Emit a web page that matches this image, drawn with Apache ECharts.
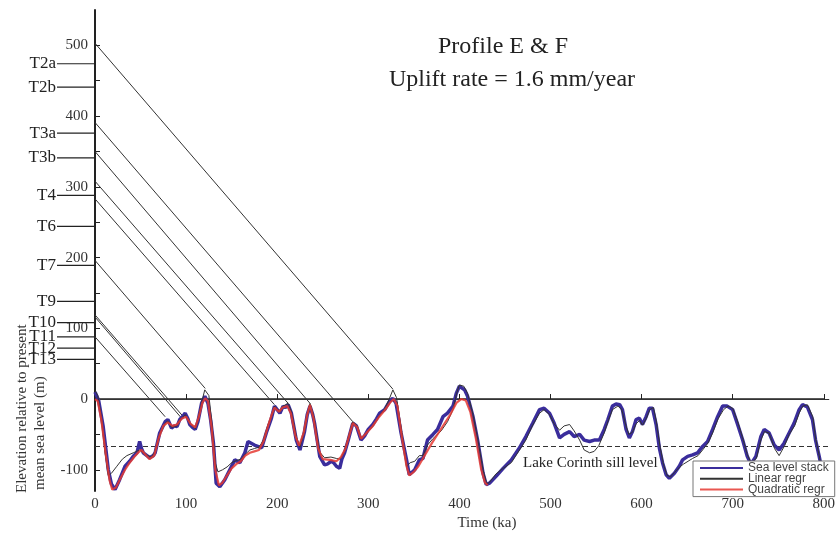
<!DOCTYPE html>
<html>
<head>
<meta charset="utf-8">
<script src="https://cdn.jsdelivr.net/npm/echarts@6/dist/echarts.min.js"></script>
<style>
  html, body { margin: 0; padding: 0; background: #fff; }
  #chart { width: 838px; height: 535px; }
</style>
</head>
<body>
<div id="chart"></div>
<script>
// Sea level stack (time in ka, elevation in m)
const seaLevelStack = [
  [0,10],[2,8],[4,-2],[9,-39],[14.6,-100],[18,-120],[22,-128],[27,-114],[33,-95],[38,-88],
  [42,-81],[46,-76],[49,-60],[51,-70],[53,-76],[57,-80],[60,-83],[64,-80],[66,-76],[71,-48],
  [77,-32],[80,-29],[84,-41],[87,-38],[90,-39],[93,-29],[96,-25],[99,-20],[102,-28],[104,-36],
  [107,-40],[110,-43],[113,-32],[117,-6],[120.6,4],[124,-6],[127,-30],[130,-62],[133,-119],[137,-124],
  [142.5,-114],[148,-100],[153.5,-86],[159,-90],[164.5,-76],[168,-60],[170,-58],[175,-65],[183,-69],[188,-48],
  [193.7,-27],[197,-10],[200,-15],[203,-20],[206.5,-10],[209,-12],[212,-8],[215.6,-20],[221,-58],[225,-72],
  [230,-46],[233,-22],[236,-10],[239,-22],[241,-34],[246.7,-81],[252,-93],[255,-92],[259.5,-88],[262,-90],
  [265,-95],[268.6,-98],[271,-85],[274,-76],[278,-58],[283,-34],[287,-38],[292,-58],[296,-52],[300,-43],
  [305,-36],[309,-28],[312.5,-20],[318,-15],[323.5,-3],[327,1],[330.5,-6],[336,-48],[342,-86],[345,-107],
  [351,-100],[356,-86],[360,-84],[365,-58],[371,-50],[376,-43],[382,-25],[387,-20],[393,-10],[396.6,8],
  [400,18],[405.7,13],[409,4],[415,-25],[420,-58],[426,-105],[429.5,-121],[433,-119],[440.5,-109],[448,-98],
  [457,-86],[466,-69],[473,-53],[480.6,-34],[488,-15],[493,-13],[499,-20],[504,-34],[510,-55],[515,-50],
  [521,-46],[526,-53],[532,-50],[537,-58],[543,-60],[548,-58],[553.7,-58],[559,-43],[563,-29],[568,-10],
  [572,-7],[576,-8],[579,-15],[583,-43],[586.6,-55],[590,-46],[594,-29],[597.6,-27],[601,-36],[605,-25],
  [608.5,-13],[612,-13],[616,-36],[619.5,-69],[623,-90],[627,-107],[630.5,-112],[636,-105],[641.4,-95],[645,-86],
  [650.6,-81],[656,-79],[661.5,-76],[667,-67],[672.5,-60],[678,-43],[683.5,-25],[689,-10],[694,-10],[700,-15],
  [705,-34],[711,-58],[716,-81],[720,-92],[725.5,-81],[731,-53],[734.6,-43],[740,-48],[745.6,-65],[751,-72],
  [756.6,-62],[762,-48],[767.5,-34],[773,-15],[776.6,-8],[782,-11],[787.6,-29],[791,-58],[795,-81],[798,-100]
];

// Linear regression reconstruction
const linearRegr = [
  [0,12],[3,5],[7,-25],[11,-75],[14.6,-108],[18,-105],[24,-95],[30,-85],[35,-80],[42,-76],
  [49,-72],[53,-76],[58,-80],[62,-82],[66,-74],[71,-50],[77,-34],[80,-31],[84,-40],[90,-38],
  [93,-30],[99,-22],[104,-34],[110,-42],[113,-30],[117,-5],[120.5,13],[122.5,15],[125,5],[128,-30],
  [132,-90],[135,-103],[140,-100],[145,-96],[150,-90],[155,-87],[160,-85],[165,-78],[170,-72],[175,-70],
  [180,-68],[185,-58],[190,-36],[194,-24],[197,-10],[203,-18],[206.5,-10],[212,-6],[215.6,-18],[221,-54],
  [225,-68],[230,-45],[233,-22],[236,-6],[240,-24],[246.7,-75],[252,-83],[259,-82],[265,-84],[269,-85],
  [274,-74],[278,-55],[283,-32],[288,-38],[292,-56],[300,-45],[305,-38],[312,-24],[318,-14],[323,0],
  [327,13],[331,2],[336,-40],[342,-95],[346,-90],[351,-88],[356,-80],[360,-80],[365,-65],[371,-56],
  [380,-45],[387,-32],[393,-15],[397,8],[400,20],[405,18],[409,8],[415,-22],[420,-55],[426,-100],
  [430,-120],[433,-118],[440,-106],[448,-98],[457,-90],[466,-72],[473,-58],[480,-38],[488,-20],[493,-15],
  [499,-22],[504,-35],[510,-44],[515,-38],[521,-36],[526,-45],[532,-58],[537,-72],[543,-76],[548,-74],
  [553,-66],[559,-48],[563,-32],[568,-15],[574,-10],[578,-14],[583,-38],[586,-50],[590,-47],[594,-35],
  [598,-30],[601,-37],[605,-28],[609,-15],[613,-12],[616,-30],[620,-65],[624,-92],[628,-108],[632,-110],
  [636,-104],[642,-96],[646,-92],[651,-88],[656,-84],[662,-80],[667,-72],[673,-62],[678,-48],[684,-28],
  [690,-15],[695,-10],[700,-13],[705,-30],[711,-55],[716,-78],[720,-90],[726,-84],[731,-58],[735,-46],
  [740,-48],[746,-70],[751,-80],[757,-66],[762,-50],[768,-38],[773,-20],[777,-10],[782,-8],[788,-25],
  [791,-55],[795,-80],[798,-100]
];

// Quadratic regression reconstruction
const quadraticRegr = [
  [0,0],[3,-3],[7,-30],[12,-80],[16,-115],[19,-128],[23,-125],[28,-112],[33,-100],[38,-90],
  [43,-82],[48,-75],[51,-72],[55,-78],[60,-85],[65,-80],[70,-55],[75,-38],[80,-33],[85,-38],
  [90,-36],[95,-28],[100,-25],[105,-35],[110,-40],[114,-25],[118,-5],[121,1],[124,-3],[128,-40],
  [132,-100],[136,-122],[140,-118],[145,-108],[150,-98],[155,-92],[160,-88],[165,-80],[170,-76],[175,-74],
  [180,-72],[185,-60],[190,-38],[194,-22],[197,-12],[202,-18],[206,-12],[211,-10],[215,-20],[220,-52],
  [224,-66],[229,-48],[233,-22],[236,-8],[240,-28],[245,-70],[250,-85],[258,-86],[265,-88],[270,-82],
  [275,-70],[279,-52],[283,-34],[288,-40],[292,-56],[298,-48],[305,-38],[312,-25],[318,-16],[324,-5],
  [328,0],[332,-10],[337,-55],[342,-95],[345,-108],[350,-103],[355,-95],[360,-84],[370,-62],[380,-42],
  [390,-22],[397,-5],[402,0],[407,-2],[412,-18],[418,-55],[424,-100],[428,-118],[431,-122]
];

// Marine terraces: name and present elevation (m)
const terraceNames = ['T2a','T2b','T3a','T3b','T4','T6','T7','T9','T10','T11','T12','T13'];
const terraceHeights = [474, 441, 376, 341, 288, 244, 189, 138, 108, 88, 72, 56];

// Uplift correlation lines: start elevation at 0 ka, end at the highstand (ka, m)
const linkStart = [503, 391, 350, 308, 283, 196, 119, 116, 88];
const linkEndTime = [327, 283, 236, 212, 197, 121, 97, 95, 77];
const linkEndElev = [14, -32, -6, -6, -8, 15, -25, -27, -25];

// Reference levels (m)
const meanSeaLevel = 0;
const sillLevel = -67;
const refLineEnd = 806;

// Axis ticks
const timeTicks = [0, 100, 200, 300, 400, 500, 600, 700, 800];
const elevLabels = [-100, 0, 100, 200, 300, 400, 500];
const elevTicks = [-100, -50, 0, 50, 100, 150, 200, 250, 300, 350, 400, 450, 500];

const serif = '"Liberation Serif", "Times New Roman", serif';
const sans = '"Liberation Sans", Arial, sans-serif';

const chart = echarts.init(document.getElementById('chart'), null, { renderer: 'canvas' });

const linkData = linkStart.map((h, i) => ({ coords: [[0, h], [linkEndTime[i], linkEndElev[i]]] }));

const option = {
  backgroundColor: '#fff',
  animation: false,
  grid: { left: 95, right: 12, top: 10, bottom: 44, containLabel: false },
  xAxis: {
    type: 'value', min: timeTicks[0], max: timeTicks[timeTicks.length - 1], interval: 100,
    axisLine: { lineStyle: { color: '#222', width: 1.5 } },
    axisTick: { inside: true, length: 5, lineStyle: { color: '#222' } },
    axisLabel: { color: '#333', fontFamily: serif, fontSize: 15, margin: 6 },
    splitLine: { show: false }
  },
  yAxis: {
    type: 'value', min: -130, max: 550,
    axisLine: { show: true, lineStyle: { color: '#222', width: 2 } },
    axisTick: { show: true, inside: true, length: 5, customValues: elevTicks, lineStyle: { color: '#222' } },
    axisLabel: { customValues: elevLabels, color: '#333', fontFamily: serif, fontSize: 15, margin: 7 },
    splitLine: { show: false }
  },
  legend: {
    orient: 'vertical', left: 693, top: 461, z: 10,
    backgroundColor: '#fff', borderColor: '#777', borderWidth: 1,
    padding: [1, 6, 1, 6], itemWidth: 43, itemHeight: 10, itemGap: -1.2,
    selectedMode: false,
    itemStyle: { opacity: 0 },
    textStyle: { fontFamily: sans, fontSize: 12, color: '#444' },
    data: ['Sea level stack', 'Linear regr', 'Quadratic regr']
  },
  graphic: [
    { type: 'text', x: 503, y: 47, style: { text: 'Profile E & F', font: '24px ' + serif, fill: '#222', align: 'center', verticalAlign: 'middle' } },
    { type: 'text', x: 512, y: 80, style: { text: 'Uplift rate = 1.6 mm/year', font: '24px ' + serif, fill: '#222', align: 'center', verticalAlign: 'middle' } },
    { type: 'text', x: 22, y: 493, rotation: Math.PI / 2, style: { text: 'Elevation relative to present', font: '15px ' + serif, fill: '#333', align: 'left', verticalAlign: 'middle' } },
    { type: 'text', x: 40, y: 490, rotation: Math.PI / 2, style: { text: 'mean sea level (m)', font: '15px ' + serif, fill: '#333', align: 'left', verticalAlign: 'middle' } },
    { type: 'text', x: 487, y: 523, style: { text: 'Time (ka)', font: '15px ' + serif, fill: '#333', align: 'center', verticalAlign: 'middle' } },
    { type: 'text', x: 523, y: 463, style: { text: 'Lake Corinth sill level', font: '15px ' + serif, fill: '#222', align: 'left', verticalAlign: 'middle' } }
  ],
  series: [
    {
      name: 'mean sea level', type: 'lines', coordinateSystem: 'cartesian2d', clip: false, silent: true,
      lineStyle: { color: '#333', width: 1, opacity: 1 },
      data: [{ coords: [[0, meanSeaLevel], [refLineEnd, meanSeaLevel]] }]
    },
    {
      name: 'sill', type: 'lines', coordinateSystem: 'cartesian2d', clip: false, silent: true,
      lineStyle: { color: '#333', width: 1, type: [5, 3], opacity: 1 },
      data: [{ coords: [[0, sillLevel], [refLineEnd, sillLevel]] }]
    },
    {
      name: 'correlation', type: 'lines', coordinateSystem: 'cartesian2d', clip: false, silent: true,
      lineStyle: { color: '#333', width: 1, opacity: 1 },
      data: linkData
    },
    {
      name: 'terraces', type: 'custom', clip: false, silent: true,
      data: terraceHeights.map(h => [0, h]),
      renderItem: function (params, api) {
        const p = api.coord([api.value(0), api.value(1)]);
        const x0 = p[0] - 38;
        return {
          type: 'group',
          children: [
            { type: 'line', shape: { x1: x0, y1: p[1], x2: p[0], y2: p[1] }, style: { stroke: '#222', lineWidth: 1.2 } },
            { type: 'text', x: x0 - 1, y: p[1], style: { text: terraceNames[params.dataIndex], font: '17px ' + serif, fill: '#222', align: 'right', verticalAlign: 'middle' } }
          ]
        };
      }
    },
    {
      name: 'Sea level stack', type: 'line', data: seaLevelStack, showSymbol: false, symbol: 'none',
      lineStyle: { color: '#3a2d9c', width: 3.5 }, itemStyle: { color: '#3a2d9c' }, z: 3
    },
    {
      name: 'Linear regr', type: 'line', data: linearRegr, showSymbol: false, symbol: 'none',
      lineStyle: { color: '#333', width: 1 }, itemStyle: { color: '#333' }, z: 4
    },
    {
      name: 'Quadratic regr', type: 'line', data: quadraticRegr, showSymbol: false, symbol: 'none',
      lineStyle: { color: '#e53a32', width: 2.2, opacity: 0.85 }, itemStyle: { color: '#e53a32' }, z: 5
    }
  ]
};

chart.setOption(option);
</script>
</body>
</html>
